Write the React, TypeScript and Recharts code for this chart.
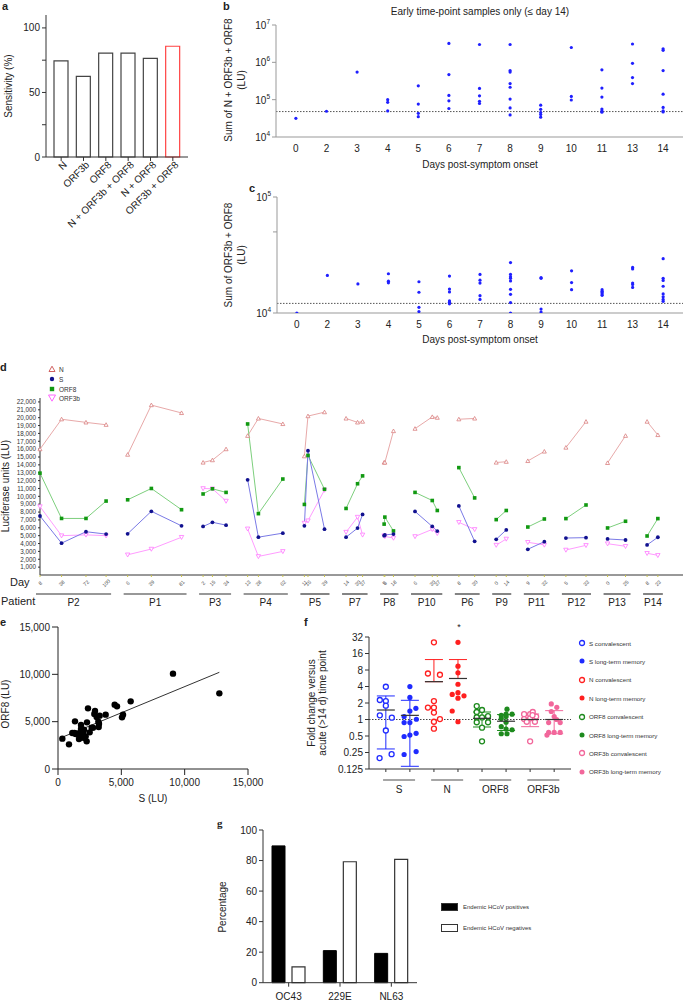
import React from 'react'
import {
  BarChart, Bar, Cell, XAxis, YAxis, ScatterChart, Scatter,
  LineChart, Line, ReferenceLine, ErrorBar,
} from 'recharts'

const FONT = '"Liberation Sans", Arial, Helvetica, sans-serif'
const INK = '#222'

// ---------- a: sensitivity per antigen combination
const aCats = ['N', 'ORF3b', 'ORF8', 'N + ORF3b + ORF8', 'N + ORF8', 'ORF3b + ORF8']
const aSens = [74.4, 62.4, 80.4, 80.4, 76.4, 85.8]

// ---------- b / c: early samples (≤ day 14)
const bcDays = ['0', '2', '3', '4', '5', '6', '7', '8', '9', '10', '11', '13', '14']
const bSums = [
  [31600],
  [49000],
  [550000],
  [100000, 85000, 50000],
  [235000, 76000, 43000, 35000],
  [3200000, 470000, 130000, 93000, 58000],
  [3000000, 200000, 127000, 90000, 79000],
  [3000000, 600000, 550000, 270000, 215000, 104000, 60000, 39000],
  [71000, 55000, 45000, 40000, 34000],
  [2500000, 122000, 98000],
  [630000, 205000, 117000, 56000, 50000, 46000],
  [3100000, 940000, 390000, 270000],
  [2300000, 2100000, 600000, 140000, 62000, 50000, 47000],
]
const cSums = [
  [10000],
  [21100],
  [17800],
  [21800, 18800, 18200],
  [18600, 15100, 11200, 10300],
  [20800, 16100, 15200, 12700, 12400, 12000],
  [21500, 19200, 18100, 14100, 13100],
  [27200, 21500, 20500, 19900, 18900, 16000, 14500, 12300, 10000],
  [20200, 19900, 10800, 10200],
  [23100, 18300, 15900],
  [15900, 15400, 15000, 14600, 14200],
  [24700, 24000, 18100, 17600, 16600],
  [29400, 19900, 19100, 17000, 14600, 13800, 13100, 12600],
]
const bCutoff = 48000
const cCutoff = 12100

// ---------- d: longitudinal LU per patient
const dPatients = ['P2', 'P1', 'P3', 'P4', 'P5', 'P7', 'P8', 'P10', 'P6', 'P9', 'P11', 'P12', 'P13', 'P14']
const dDays = [[8, 38, 72, 100], [6, 39, 81], [2, 15, 34], [13, 28, 62], [11, 16, 39], [14, 30, 37], [5, 6, 18], [6, 30, 37], [8, 30], [0, 14], [9, 32], [5, 33], [0, 25], [8, 23]]
const dN = [[16000, 19800, 19400, 19100], [15300, 21600, 20600], [14300, 14600, 16000], [17700, 19900, 19200], [15100, 20200, 20700], [19900, 19400, 19500], [14300, 14300, 18300], [18600, 20100, 20000], [19800, 19900], [14300, 14400], [14500, 15700], [16200, 19500], [14250, 17700], [19500, 17800]]
const dS = [[7500, 4050, 5500, 5200], [5240, 8100, 6250], [6170, 6700, 6340], [12100, 4810, 5320], [6250, 15800, 5830], [4810, 5960, 7700], [5000, 5100, 5200], [8080, 6170, 5580], [8780, 4280], [4540, 5730], [3270, 4240], [4700, 4750], [4580, 4450], [3820, 4800]]
const dORF8 = [[12950, 7190, 7190, 9400], [9560, 11000, 8300], [10300, 10960, 10500], [19200, 7800, 12200], [8970, 15200, 10900], [8460, 11600, 12600], [6470, 7360, 5600], [10500, 9470, 8200], [13650, 9800], [7040, 8200], [6100, 7120], [7170, 8900], [5980, 6830], [4960, 7170]]
const dORF3b = [[8700, 5000, 5100, 5000], [2570, 3300, 4800], [11000, 10960, 9400], [5870, 2360, 3000], [6600, 6900, 10800], [5450, 7360, 5100], [5000, 4900, 4700], [4900, 5800, 5300], [6700, 5800], [3800, 4580], [4160, 3820], [3180, 3770], [3980, 3650], [2760, 2500]]
const dYTicks = Array.from({ length: 22 }, (_, i) => (i + 1) * 1000)

// ---------- e: S vs ORF8
const eS = [342, 868, 1342, 1132, 1526, 1816, 1816, 1974, 2053, 2184, 1658, 1395, 1868, 2289, 2368, 2263, 2500, 2658, 2921, 2868, 3053, 3184, 3211, 3289, 3237, 3763, 4474, 4658, 5053, 5132, 5737, 9079, 12737, 2763, 1300, 2000, 1700]
const eORF8 = [3204, 2606, 5035, 3803, 3732, 4648, 4225, 3803, 4155, 3451, 3169, 3697, 3451, 4930, 6408, 2923, 3873, 4366, 6127, 5810, 5493, 5000, 4437, 5634, 4789, 5739, 6796, 6620, 5458, 5739, 7148, 10070, 7993, 4366, 3800, 3300, 3600]

// ---------- f: fold change vs acute time point
const fGenes = ['S', 'N', 'ORF8', 'ORF3b']
const fColors = ['#1f2bff', '#ff1f1f', '#1d8a1d', '#f2679b']
const fGroups = ['S convalescent', 'S long-term memory', 'N convalescent', 'N long-term memory', 'ORF8 convalescent', 'ORF8 long-term memory', 'ORF3b convalescent', 'ORF3b long-term memory']
const fFolds = [
  [3.96, 2.27, 2.17, 1.79, 1.19, 1.08, 0.63, 0.198, 0.233],
  [3.98, 2.53, 1.43, 1.6, 1.13, 1.01, 0.88, 0.88, 0.49, 0.52, 0.56, 0.23, 0.26],
  [25.6, 6.9, 6.55, 2.17, 1.65, 1.65, 1.34, 1.02, 0.91, 0.68],
  [25.6, 9.4, 7.1, 4.4, 3.08, 2.87, 2.7, 2.45, 1.43, 0.91],
  [1.76, 1.49, 1.37, 1.15, 1.1, 1.09, 0.89, 0.89, 0.71, 0.4],
  [1.54, 1.19, 1.25, 1.25, 1.04, 1.13, 0.89, 0.74, 0.65, 0.67, 0.55, 0.55],
  [1.25, 1.25, 1.37, 1.13, 1.02, 1.05, 0.91, 0.91, 0.4, 1.2],
  [1.92, 1.4, 1.67, 1.13, 0.88, 0.88, 0.58, 0.58, 0.58, 0.52, 1.0],
]
const fJitter = [
  [0, -0.25, 0, 0, -0.25, 0.25, 0, -0.26, 0.24],
  [0, 0, 0, 0.25, -0.24, 0.27, -0.24, 0, -0.24, 0, 0.26, -0.24, 0.26],
  [0, -0.25, 0.25, 0, -0.25, 0, 0, 0.25, 0, 0],
  [0, 0, 0, 0, 0, -0.24, 0.25, 0, -0.24, 0],
  [-0.22, 0, -0.22, 0.25, -0.22, 0, -0.22, 0.25, 0, 0],
  [0.04, -0.2, 0, 0.25, -0.2, 0, 0, -0.2, 0.25, 0, -0.2, 0.04],
  [-0.25, 0, 0.11, 0.25, -0.25, 0, -0.14, 0.2, 0, 0.1],
  [-0.12, -0.12, 0.11, 0, -0.23, 0.25, -0.23, 0, 0.25, -0.3, 0.1],
]
const fMeans = [1.49, 1.19, 4.9, 5.6, 1.05, 0.93, 1.0, 1.0]
const fSd = [1.2, 1.05, 7.5, 6.8, 0.32, 0.3, 0.26, 0.45]
const fYTicks = [0.125, 0.25, 0.5, 1, 2, 4, 8, 16, 32]

// ---------- g: endemic HCoV
const gViruses = ['OC43', '229E', 'NL63']
const gPos = [89.6, 21, 19.2]
const gNeg = [10.3, 79.2, 80.8]

const fmtK = (v: number) => v.toLocaleString('en-US')

function Txt({ x, y, children, size = 10, rotate = 0, anchor = 'middle', weight = 400, family = FONT, color = INK, lh = 1.25 }: any) {
  const tx = anchor === 'middle' ? '-50%' : anchor === 'end' ? '-100%' : '0%'
  return (
    <div style={{
      position: 'absolute', left: x, top: y, transform: `translate(${tx}, -50%) rotate(${rotate}deg)`,
      fontSize: size, fontWeight: weight, fontFamily: family, color, whiteSpace: 'nowrap', lineHeight: lh, textAlign: 'center',
    }}>
      {children}
    </div>
  )
}

function At({ x, y, children }: any) {
  return <div style={{ position: 'absolute', left: x, top: y }}>{children}</div>
}

// ---------- panel a
const RotTick = (props: any) => {
  const { x, y, payload } = props
  return (
    <text transform={`translate(${x + 4},${y}) rotate(-45)`} textAnchor="end" dominantBaseline="central" fontSize={10} fill={INK}>
      {payload.value}
    </text>
  )
}

function PanelA() {
  const data = aCats.map((cat, i) => ({ cat, v: aSens[i] }))
  return (
    <BarChart width={200} height={235} data={data} margin={{ top: 15, right: 12, left: 0, bottom: 0 }}>
      <XAxis dataKey="cat" interval={0} height={78} padding={{ left: 4, right: 4 }} tick={<RotTick />} tickSize={4}
        axisLine={{ stroke: '#333' }} tickLine={{ stroke: '#333' }} />
      <YAxis type="number" domain={[0, 110]} ticks={[0, 25, 50, 75, 100]} interval={0} width={46} tickSize={4}
        tickFormatter={(v: number) => (v % 50 === 0 ? String(v) : '')}
        tick={{ fontSize: 10, fill: INK }} axisLine={{ stroke: '#333' }} tickLine={{ stroke: '#333' }} />
      <Bar dataKey="v" barSize={14} fill="#fff" isAnimationActive={false}>
        {data.map((_, i) => <Cell key={i} stroke={i === 5 ? '#ff4343' : '#444'} strokeWidth={1.2} />)}
      </Bar>
    </BarChart>
  )
}

// ---------- panels b, c
const PowTick = (props: any) => {
  const { x, y, payload } = props
  const e = Math.log10(payload.value)
  if (Math.abs(e - Math.round(e)) > 1e-6) return <g />
  return (
    <text x={x} y={y} dy={4} textAnchor="end" fontSize={10} fill={INK}>
      10<tspan fontSize={6.5} dy={-5}>{Math.round(e)}</tspan>
    </text>
  )
}

function DayScatter({ sums, cutoff, height, top, xAxisH, yAxisW, domain, ticks }: any) {
  const data = sums.flatMap((arr: number[], i: number) => arr.map(v => ({ x: i, y: v })))
  return (
    <ScatterChart width={485} height={height} margin={{ top, right: 2, left: 0, bottom: 0 }}>
      <XAxis type="number" dataKey="x" domain={[-0.65, 12.65]} ticks={bcDays.map((_, i) => i)} interval={0}
        tickFormatter={(i: number) => bcDays[i]} height={xAxisH} tickLine={false}
        tick={{ fontSize: 10, fill: INK }} axisLine={{ stroke: '#999' }} />
      <YAxis type="number" dataKey="y" scale="log" domain={domain} ticks={ticks} interval={0} width={yAxisW}
        tick={<PowTick />} tickSize={4} axisLine={{ stroke: '#999' }} tickLine={{ stroke: '#999' }} allowDataOverflow />
      <ReferenceLine y={cutoff} stroke="#555" strokeDasharray="1.5 1.5" />
      <Scatter data={data} isAnimationActive={false}
        shape={(p: any) => <circle cx={p.cx} cy={p.cy} r={1.6} fill="#1f1fff" />} />
    </ScatterChart>
  )
}

// ---------- panel d
const D_GAP = 30
const D_MAX = 895
const D_PX = 643 / D_MAX
const dStart = dDays.reduce<number[]>((acc, days, i) => {
  if (i === 0) return [-days[0]]
  const prev = dDays[i - 1]
  acc.push(acc[i - 1] + prev[prev.length - 1] + D_GAP - days[0])
  return acc
}, [])
const dTickInfo = new Map<number, { day: number; pi: number; first: boolean }>()
dDays.forEach((days, pi) => days.forEach((day, j) => dTickInfo.set(dStart[pi] + day, { day, pi, first: j === 0 })))
const dTicks = Array.from(dTickInfo.keys())

function dSeries(vals: number[][]) {
  const out: { pos: number; v: number | null }[] = []
  vals.forEach((arr, pi) => {
    arr.forEach((v, j) => out.push({ pos: dStart[pi] + dDays[pi][j], v }))
    const days = dDays[pi]
    out.push({ pos: dStart[pi] + days[days.length - 1] + D_GAP / 2, v: null })
  })
  return out
}

const DTick = (props: any) => {
  const { x, y, payload } = props
  const info = dTickInfo.get(payload.value)
  if (!info) return <g />
  const days = dDays[info.pi]
  const spanPx = (days[days.length - 1] - days[0]) * D_PX
  return (
    <g>
      <text transform={`translate(${x},${y + 4}) rotate(-45)`} textAnchor="middle" dominantBaseline="central" fontSize={5.2} fill="#555">
        {info.day}
      </text>
      {info.first && (
        <g>
          <line x1={x - 4} x2={x + spanPx + 5} y1={y + 15} y2={y + 15} stroke="#333" strokeWidth={1.2} />
          <text x={x + spanPx / 2 + 0.5} y={y + 27} textAnchor="middle" fontSize={10} fill={INK}>{dPatients[info.pi]}</text>
        </g>
      )}
    </g>
  )
}

const markN = (c: string) => (p: any) => {
  if (p.cy == null || p.value == null) return <g key={`n${p.index}`} />
  const s = 2
  return <path key={`n${p.index}`} d={`M${p.cx},${p.cy - s} L${p.cx + s},${p.cy + s * 0.8} L${p.cx - s},${p.cy + s * 0.8} Z`} fill="#fff" stroke={c} strokeWidth={0.8} />
}
const markS = (c: string) => (p: any) => {
  if (p.cy == null || p.value == null) return <g key={`s${p.index}`} />
  return <circle key={`s${p.index}`} cx={p.cx} cy={p.cy} r={1.9} fill={c} />
}
const markO8 = (c: string) => (p: any) => {
  if (p.cy == null || p.value == null) return <g key={`o${p.index}`} />
  return <rect key={`o${p.index}`} x={p.cx - 1.8} y={p.cy - 1.8} width={3.6} height={3.6} fill={c} />
}
const markO3 = (c: string) => (p: any) => {
  if (p.cy == null || p.value == null) return <g key={`t${p.index}`} />
  const s = 2.2
  return <path key={`t${p.index}`} d={`M${p.cx},${p.cy + s} L${p.cx + s},${p.cy - s * 0.8} L${p.cx - s},${p.cy - s * 0.8} Z`} fill="#fff" stroke={c} strokeWidth={0.8} />
}

const dSeriesDefs = [
  { name: 'N', vals: dN, line: '#e8a9a9', dot: markN('#d98080') },
  { name: 'ORF3b', vals: dORF3b, line: '#ff9cff', dot: markO3('#ff77ff') },
  { name: 'ORF8', vals: dORF8, line: '#7dcf7d', dot: markO8('#119911') },
  { name: 'S', vals: dS, line: '#7a7ae6', dot: markS('#11118f') },
]

function PanelD() {
  return (
    <LineChart width={685} height={264} margin={{ top: 43, right: 2, left: 0, bottom: 0 }}>
      <XAxis type="number" dataKey="pos" domain={[0, D_MAX]} ticks={dTicks} interval={0} height={44}
        tick={<DTick />} tickSize={2} axisLine={{ stroke: '#333' }} tickLine={{ stroke: '#c9c24a' }} />
      <YAxis type="number" domain={[0, 22500]} ticks={dYTicks} interval={0} width={40} tickSize={2}
        tickFormatter={fmtK} tick={{ fontSize: 6.3, fill: '#333' }} axisLine={{ stroke: '#333' }} tickLine={{ stroke: '#333' }} />
      {dSeriesDefs.map(s => (
        <Line key={s.name} data={dSeries(s.vals)} dataKey="v" stroke={s.line} strokeWidth={1}
          dot={s.dot} activeDot={false} isAnimationActive={false} connectNulls={false} />
      ))}
    </LineChart>
  )
}

function DLegend() {
  const rows = [
    { label: 'N', y: 369, sym: <path d="M4,1.2 L7,6.5 L1,6.5 Z" fill="#fff" stroke="#d06060" strokeWidth={1} /> },
    { label: 'S', y: 379, sym: <circle cx={4} cy={4} r={2.2} fill="#11118f" /> },
    { label: 'ORF8', y: 389, sym: <rect x={1.8} y={1.8} width={4.4} height={4.4} fill="#119911" /> },
    { label: 'ORF3b', y: 398, sym: <path d="M4,7.2 L7.5,1 L0.5,1 Z" fill="#fff" stroke="#ff66ff" strokeWidth={1} /> },
  ]
  return (
    <>
      {rows.map(r => (
        <div key={r.label} style={{ position: 'absolute', left: 48, top: r.y - 4, display: 'flex', alignItems: 'center', height: 8 }}>
          <svg width={8} height={8}>{r.sym}</svg>
          <span style={{ fontSize: 6.5, color: '#333', marginLeft: 3, fontFamily: FONT }}>{r.label}</span>
        </div>
      ))}
    </>
  )
}

// ---------- panel e
function PanelE() {
  const data = eS.map((x, i) => ({ x, y: eORF8[i] }))
  const n = data.length
  const mx = eS.reduce((a, b) => a + b, 0) / n
  const my = eORF8.reduce((a, b) => a + b, 0) / n
  const sxy = data.reduce((a, d) => a + (d.x - mx) * (d.y - my), 0)
  const sxx = data.reduce((a, d) => a + (d.x - mx) ** 2, 0)
  const slope = sxy / sxx
  const icpt = my - slope * mx
  const x0 = Math.min(...eS)
  const x1 = Math.max(...eS)
  const ax = { fontSize: 10, fill: INK }
  return (
    <ScatterChart width={280} height={200} margin={{ top: 17, right: 32, left: 0, bottom: 0 }}>
      <XAxis type="number" dataKey="x" domain={[0, 15000]} ticks={[0, 5000, 10000, 15000]} interval={0}
        tickFormatter={fmtK} height={41} tickMargin={4} tick={ax} axisLine={{ stroke: '#222' }} tickLine={{ stroke: '#222' }} />
      <YAxis type="number" dataKey="y" domain={[0, 15000]} ticks={[0, 5000, 10000, 15000]} interval={0}
        tickFormatter={fmtK} width={58} tick={ax} axisLine={{ stroke: '#222' }} tickLine={{ stroke: '#222' }} />
      <ReferenceLine segment={[{ x: x0, y: icpt + slope * x0 }, { x: x1, y: icpt + slope * x1 }]} stroke="#333" strokeWidth={1} />
      <Scatter data={data} isAnimationActive={false}
        shape={(p: any) => <circle cx={p.cx} cy={p.cy} r={3.2} fill="#000" />} />
    </ScatterChart>
  )
}

// ---------- panel f
const F_PX = 202 / 8.4
const FTick = (props: any) => {
  const { x, y, payload } = props
  const col = payload.value
  if (col % 2 !== 0) return <g />
  const cx = x + 0.55 * F_PX
  return (
    <g>
      <line x1={cx - 16} x2={cx + 16} y1={y + 6} y2={y + 6} stroke="#888" strokeWidth={1.5} />
      <text x={cx} y={y + 19} textAnchor="middle" fontSize={10} fill={INK}>{fGenes[col / 2]}</text>
    </g>
  )
}

function PanelF() {
  return (
    <ScatterChart width={330} height={190} margin={{ top: 27, right: 9, left: 0, bottom: 0 }}>
      <XAxis type="number" dataKey="x" domain={[-0.7, 7.7]} ticks={[0, 1, 2, 3, 4, 5, 6, 7]} interval={0}
        height={31} tickSize={3} tick={<FTick />} axisLine={{ stroke: '#333' }} tickLine={{ stroke: '#333' }} />
      <YAxis type="number" dataKey="y" scale="log" domain={[0.125, 32]} ticks={fYTicks} interval={0} width={119}
        tickFormatter={(v: number) => String(v)} tick={{ fontSize: 10, fill: INK }} tickSize={4}
        axisLine={{ stroke: '#333' }} tickLine={{ stroke: '#333' }} allowDataOverflow />
      <ReferenceLine y={1} stroke="#444" strokeDasharray="1.5 1.5" />
      {fFolds.map((vals, g) => {
        const color = fColors[Math.floor(g / 2)]
        const open = g % 2 === 0
        const data = vals.map((y, k) => ({ x: g + fJitter[g][k], y }))
        return (
          <Scatter key={fGroups[g]} data={data} isAnimationActive={false}
            shape={(p: any) => open
              ? <circle cx={p.cx} cy={p.cy} r={2.5} fill="#fff" stroke={color} strokeWidth={1.3} />
              : <circle cx={p.cx} cy={p.cy} r={2.6} fill={color} />} />
        )
      })}
      {fGenes.map((gene, gi) => {
        const data = [2 * gi, 2 * gi + 1].map(c => ({
          x: c, y: fMeans[c], err: [fMeans[c] - fSd[c] > 0 ? fSd[c] : 0, fSd[c]],
        }))
        return (
          <Scatter key={gene} data={data} isAnimationActive={false}
            shape={(p: any) => <line x1={p.cx - 9} x2={p.cx + 9} y1={p.cy} y2={p.cy} stroke="#333" strokeWidth={1.2} />}>
            <ErrorBar dataKey="err" direction="y" width={9} stroke={fColors[gi]} strokeWidth={1} />
          </Scatter>
        )
      })}
    </ScatterChart>
  )
}

function FLegend() {
  return (
    <>
      {fGroups.map((g, i) => {
        const color = fColors[Math.floor(i / 2)]
        const open = i % 2 === 0
        return (
          <div key={g} style={{ position: 'absolute', left: 578, top: 643 + i * 18.4 - 4, display: 'flex', alignItems: 'center', height: 8 }}>
            <svg width={8} height={8}>
              {open
                ? <circle cx={4} cy={4} r={2.5} fill="#fff" stroke={color} strokeWidth={1.3} />
                : <circle cx={4} cy={4} r={2.5} fill={color} />}
            </svg>
            <span style={{ fontSize: 6.2, color: '#333', marginLeft: 3, fontFamily: FONT }}>{g}</span>
          </div>
        )
      })}
    </>
  )
}

// ---------- panel g
function PanelG() {
  const data = gViruses.map((v, i) => ({ v, pos: gPos[i], neg: gNeg[i] }))
  return (
    <BarChart width={270} height={186} data={data} margin={{ top: 15, right: 53, left: 0, bottom: 0 }} barGap={7}>
      <XAxis dataKey="v" height={18.3} tickSize={4} tickMargin={6} tick={{ fontSize: 10, fill: INK }}
        axisLine={{ stroke: '#333' }} tickLine={{ stroke: '#333' }} />
      <YAxis type="number" domain={[0, 100]} ticks={[0, 20, 40, 60, 80, 100]} interval={0} width={63} tickSize={4}
        tick={{ fontSize: 10, fill: INK }} axisLine={{ stroke: '#333' }} tickLine={{ stroke: '#333' }} />
      <Bar dataKey="pos" barSize={13} fill="#000" stroke="#000" isAnimationActive={false} />
      <Bar dataKey="neg" barSize={13} fill="#fff" stroke="#333" strokeWidth={1.2} isAnimationActive={false} />
    </BarChart>
  )
}

function GLegend() {
  const rows = [
    { label: 'Endemic HCoV positives', y: 907, fill: '#000' },
    { label: 'Endemic HCoV negatives', y: 928, fill: '#fff' },
  ]
  return (
    <>
      {rows.map(r => (
        <div key={r.label} style={{ position: 'absolute', left: 441, top: r.y - 4, display: 'flex', alignItems: 'center', height: 8 }}>
          <div style={{ width: 15, height: 6, background: r.fill, border: '1px solid #333' }} />
          <span style={{ fontSize: 6, color: '#333', marginLeft: 5, fontFamily: FONT }}>{r.label}</span>
        </div>
      ))}
    </>
  )
}

export default function App() {
  return (
    <div style={{ position: 'absolute', left: 0, top: 0, width: 685, height: 1001, background: '#fff', fontFamily: FONT, overflow: 'hidden' }}>
      <At x={0} y={0}><PanelA /></At>
      <At x={200} y={0}>
        <DayScatter sums={bSums} cutoff={bCutoff} height={185} top={25} xAxisH={48} yAxisW={76}
          domain={[1e4, 1e7]} ticks={[1e4, 1e5, 1e6, 1e7]} />
      </At>
      <At x={200} y={185}>
        <DayScatter sums={cSums} cutoff={cCutoff} height={165} top={12} xAxisH={37} yAxisW={77}
          domain={[1e4, 1e5]} ticks={[1e4, 5e4, 1e5]} />
      </At>
      <At x={0} y={355}><PanelD /></At>
      <At x={0} y={610}><PanelE /></At>
      <At x={250} y={610}><PanelF /></At>
      <At x={200} y={815}><PanelG /></At>

      {/* panel letters */}
      <Txt x={2} y={7} size={11} weight={700} anchor="start">a</Txt>
      <Txt x={223} y={7} size={11} weight={700} anchor="start">b</Txt>
      <Txt x={249} y={189} size={11} weight={700} anchor="start">c</Txt>
      <Txt x={0} y={368} size={11} weight={700} anchor="start">d</Txt>
      <Txt x={0} y={623} size={11} weight={700} anchor="start">e</Txt>
      <Txt x={304} y={623} size={11} weight={700} anchor="start">f</Txt>
      <Txt x={217} y={824} size={11} weight={700} anchor="start" family="'Liberation Serif', 'Times New Roman', serif">g</Txt>

      {/* a */}
      <Txt x={9} y={86} rotate={-90}>Sensitivity (%)</Txt>

      {/* b */}
      <Txt x={480} y={12}>Early time-point samples only (≤ day 14)</Txt>
      <Txt x={235} y={80} rotate={-90} lh={1.3}>Sum of N + ORF3b + ORF8<br />(LU)</Txt>
      <Txt x={480} y={165}>Days post-symptom onset</Txt>

      {/* c */}
      <Txt x={235} y={255} rotate={-90} lh={1.3}>Sum of ORF3b + ORF8<br />(LU)</Txt>
      <Txt x={480} y={340}>Days post-symptom onset</Txt>

      {/* d */}
      <DLegend />
      <Txt x={6} y={486} rotate={-90}>Luciferase units (LU)</Txt>
      <Txt x={10} y={583} size={11} anchor="start">Day</Txt>
      <Txt x={1} y={602} size={11} anchor="start">Patient</Txt>

      {/* e */}
      <Txt x={6} y={704} rotate={-90}>ORF8 (LU)</Txt>
      <Txt x={153} y={799}>S (LU)</Txt>

      {/* f */}
      <Txt x={317} y={703} rotate={-90} lh={1.1}>Fold change versus<br />acute (&gt;14 d) time point</Txt>
      <Txt x={459} y={628} size={9}>*</Txt>
      <FLegend />

      {/* g */}
      <Txt x={223} y={907} rotate={-90}>Percentage</Txt>
      <GLegend />
    </div>
  )
}
